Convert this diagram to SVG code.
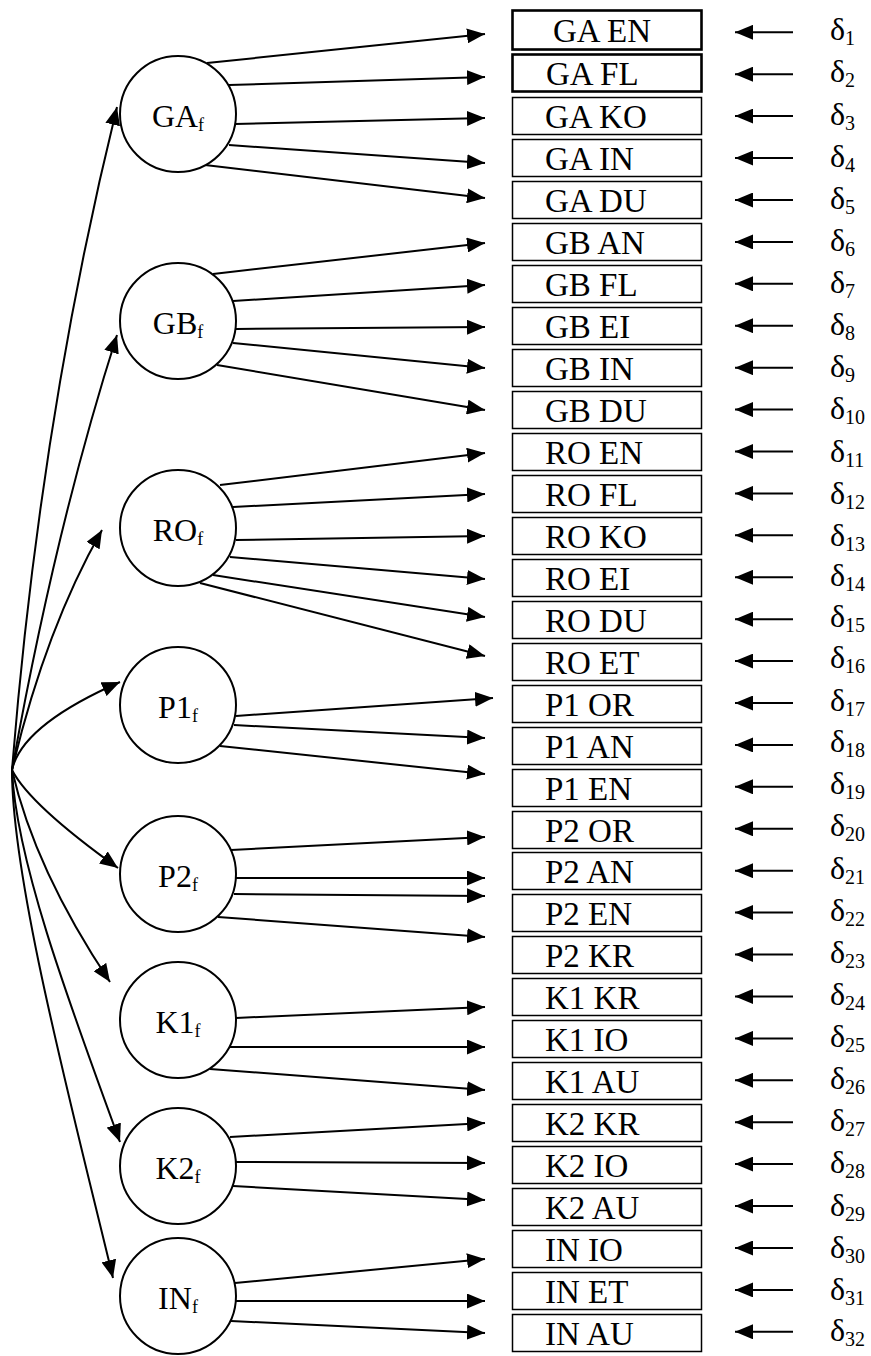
<svg xmlns="http://www.w3.org/2000/svg" width="871" height="1356" viewBox="0 0 871 1356">
<style>
.bg{fill:#fff}
.c{fill:#fff;stroke:#000;stroke-width:2}
.b{fill:#fff;stroke:#000;stroke-width:1.5}
.bt{fill:#fff;stroke:#000;stroke-width:2.6}
.t{font-family:"Liberation Serif","Times New Roman",serif;font-size:33px;fill:#000}
.ct{font-family:"Liberation Serif","Times New Roman",serif;font-size:32px;fill:#000;text-anchor:middle}
.sub{font-size:18px}
.d{font-family:"Liberation Serif","Times New Roman",serif;font-size:32px;fill:#000}
.ds{font-size:20px}
.l{fill:none;stroke:#000;stroke-width:2;marker-end:url(#ah)}
</style>
<defs>
<marker id="ah" markerUnits="userSpaceOnUse" markerWidth="19" markerHeight="15" refX="18" refY="7.5" orient="auto"><path d="M0,0 L18,7.5 L0,15 z" fill="#000"/></marker>
</defs>
<rect class="bg" x="0" y="0" width="871" height="1356"/>
<g id="connectors">
<path class="l" d="M12,770 Q40,420 117,107"/>
<path class="l" d="M12,770 Q55.5,527.5 117,335"/>
<path class="l" d="M12,770 Q45,630 102,530"/>
<path class="l" d="M12,770 Q22,725 120,682"/>
<path class="l" d="M12,770 Q30,805 118,868"/>
<path class="l" d="M12,770 Q35,870 110,982"/>
<path class="l" d="M12,770 C16,860 68,1000 120,1142"/>
<path class="l" d="M12,770 C12,880 70,1100 113,1278"/>
<path class="l" d="M207,63 L485,34"/>
<path class="l" d="M229,85 L485,77"/>
<path class="l" d="M235,124 L485,118"/>
<path class="l" d="M229,145 L485,163"/>
<path class="l" d="M205,165 L485,198"/>
<path class="l" d="M213,274 L485,243"/>
<path class="l" d="M233,301 L485,285"/>
<path class="l" d="M236,329 L485,327"/>
<path class="l" d="M233,343 L485,368"/>
<path class="l" d="M217,365 L485,410"/>
<path class="l" d="M220,485 L485,453"/>
<path class="l" d="M233,507 L485,494"/>
<path class="l" d="M236,540 L485,536"/>
<path class="l" d="M230,557 L485,579"/>
<path class="l" d="M213,575 L485,617"/>
<path class="l" d="M200,583 L485,656"/>
<path class="l" d="M236,716 L493,698"/>
<path class="l" d="M234,725 L485,738"/>
<path class="l" d="M220,746 L485,774"/>
<path class="l" d="M231,850 L485,837"/>
<path class="l" d="M236,878 L485,878"/>
<path class="l" d="M234,894 L485,896"/>
<path class="l" d="M218,917 L485,937"/>
<path class="l" d="M236,1018 L485,1007"/>
<path class="l" d="M230,1047 L485,1047"/>
<path class="l" d="M210,1069 L485,1090"/>
<path class="l" d="M230,1137 L485,1123"/>
<path class="l" d="M236,1162 L485,1163"/>
<path class="l" d="M233,1186 L485,1200"/>
<path class="l" d="M235,1283 L485,1259"/>
<path class="l" d="M236,1301 L485,1301"/>
<path class="l" d="M231,1321 L485,1333"/>
<path class="l" d="M793,32.3 H735"/>
<path class="l" d="M793,74.2 H735"/>
<path class="l" d="M793,116.1 H735"/>
<path class="l" d="M793,158.1 H735"/>
<path class="l" d="M793,200 H735"/>
<path class="l" d="M793,241.9 H735"/>
<path class="l" d="M793,283.8 H735"/>
<path class="l" d="M793,325.7 H735"/>
<path class="l" d="M793,367.7 H735"/>
<path class="l" d="M793,409.6 H735"/>
<path class="l" d="M793,451.5 H735"/>
<path class="l" d="M793,493.4 H735"/>
<path class="l" d="M793,535.3 H735"/>
<path class="l" d="M793,577.3 H735"/>
<path class="l" d="M793,619.2 H735"/>
<path class="l" d="M793,661.1 H735"/>
<path class="l" d="M793,703 H735"/>
<path class="l" d="M793,744.9 H735"/>
<path class="l" d="M793,786.8 H735"/>
<path class="l" d="M793,828.8 H735"/>
<path class="l" d="M793,870.7 H735"/>
<path class="l" d="M793,912.6 H735"/>
<path class="l" d="M793,954.5 H735"/>
<path class="l" d="M793,996.4 H735"/>
<path class="l" d="M793,1038.4 H735"/>
<path class="l" d="M793,1080.3 H735"/>
<path class="l" d="M793,1122.2 H735"/>
<path class="l" d="M793,1164.1 H735"/>
<path class="l" d="M793,1206 H735"/>
<path class="l" d="M793,1248 H735"/>
<path class="l" d="M793,1289.9 H735"/>
<path class="l" d="M793,1331.8 H735"/>
</g>
<g id="latent-GA"><circle class="c" cx="178" cy="114" r="58"/><text class="ct" x="178" y="126.7">GA<tspan class="sub" dy="4">f</tspan></text></g>
<g id="latent-GB"><circle class="c" cx="178" cy="321" r="58"/><text class="ct" x="178" y="333.7">GB<tspan class="sub" dy="4">f</tspan></text></g>
<g id="latent-RO"><circle class="c" cx="178" cy="528" r="58"/><text class="ct" x="178" y="540.7">RO<tspan class="sub" dy="4">f</tspan></text></g>
<g id="latent-P1"><circle class="c" cx="178" cy="705" r="58"/><text class="ct" x="178" y="717.7">P1<tspan class="sub" dy="4">f</tspan></text></g>
<g id="latent-P2"><circle class="c" cx="178" cy="874" r="58"/><text class="ct" x="178" y="886.7">P2<tspan class="sub" dy="4">f</tspan></text></g>
<g id="latent-K1"><circle class="c" cx="178" cy="1020" r="58"/><text class="ct" x="178" y="1032.7">K1<tspan class="sub" dy="4">f</tspan></text></g>
<g id="latent-K2"><circle class="c" cx="178" cy="1166" r="58"/><text class="ct" x="178" y="1178.7">K2<tspan class="sub" dy="4">f</tspan></text></g>
<g id="latent-IN"><circle class="c" cx="178" cy="1296" r="58"/><text class="ct" x="178" y="1308.7">IN<tspan class="sub" dy="4">f</tspan></text></g>
<g id="box-1"><rect class="bt" x="512.5" y="10.5" width="189" height="39"/><text class="t" x="553" y="42.3">GA EN</text></g>
<g id="box-2"><rect class="bt" x="512.5" y="54.5" width="189" height="37"/><text class="t" x="546" y="84.7">GA FL</text></g>
<g id="box-3"><rect class="b" x="512.5" y="97.5" width="189" height="37"/><text class="t" x="545" y="128">GA KO</text></g>
<g id="box-4"><rect class="b" x="512.5" y="139.5" width="189" height="37"/><text class="t" x="545" y="170">GA IN</text></g>
<g id="box-5"><rect class="b" x="512.5" y="181.5" width="189" height="37"/><text class="t" x="545" y="212">GA DU</text></g>
<g id="box-6"><rect class="b" x="512.5" y="223.5" width="189" height="37"/><text class="t" x="545" y="254">GB AN</text></g>
<g id="box-7"><rect class="b" x="512.5" y="265.5" width="189" height="37"/><text class="t" x="545" y="296">GB FL</text></g>
<g id="box-8"><rect class="b" x="512.5" y="307.5" width="189" height="37"/><text class="t" x="545" y="338">GB EI</text></g>
<g id="box-9"><rect class="b" x="512.5" y="349.5" width="189" height="37"/><text class="t" x="545" y="380">GB IN</text></g>
<g id="box-10"><rect class="b" x="512.5" y="391.5" width="189" height="37"/><text class="t" x="545" y="422">GB DU</text></g>
<g id="box-11"><rect class="b" x="512.5" y="433.5" width="189" height="37"/><text class="t" x="545" y="464">RO EN</text></g>
<g id="box-12"><rect class="b" x="512.5" y="475.5" width="189" height="37"/><text class="t" x="545" y="506">RO FL</text></g>
<g id="box-13"><rect class="b" x="512.5" y="517.5" width="189" height="37"/><text class="t" x="545" y="548">RO KO</text></g>
<g id="box-14"><rect class="b" x="512.5" y="559.5" width="189" height="37"/><text class="t" x="545" y="590">RO EI</text></g>
<g id="box-15"><rect class="b" x="512.5" y="601.5" width="189" height="37"/><text class="t" x="545" y="632">RO DU</text></g>
<g id="box-16"><rect class="b" x="512.5" y="643.5" width="189" height="37"/><text class="t" x="545" y="674">RO ET</text></g>
<g id="box-17"><rect class="b" x="512.5" y="685.5" width="189" height="37"/><text class="t" x="545" y="716">P1 OR</text></g>
<g id="box-18"><rect class="b" x="512.5" y="727.5" width="189" height="37"/><text class="t" x="545" y="758">P1 AN</text></g>
<g id="box-19"><rect class="b" x="512.5" y="769.5" width="189" height="37"/><text class="t" x="545" y="800">P1 EN</text></g>
<g id="box-20"><rect class="b" x="512.5" y="811.5" width="189" height="37"/><text class="t" x="545" y="842">P2 OR</text></g>
<g id="box-21"><rect class="b" x="512.5" y="852.5" width="189" height="37"/><text class="t" x="545" y="883">P2 AN</text></g>
<g id="box-22"><rect class="b" x="512.5" y="894.5" width="189" height="37"/><text class="t" x="545" y="925">P2 EN</text></g>
<g id="box-23"><rect class="b" x="512.5" y="936.5" width="189" height="37"/><text class="t" x="545" y="967">P2 KR</text></g>
<g id="box-24"><rect class="b" x="512.5" y="978.5" width="189" height="37"/><text class="t" x="545" y="1009">K1 KR</text></g>
<g id="box-25"><rect class="b" x="512.5" y="1020.5" width="189" height="37"/><text class="t" x="545" y="1051">K1 IO</text></g>
<g id="box-26"><rect class="b" x="512.5" y="1062.5" width="189" height="37"/><text class="t" x="545" y="1093">K1 AU</text></g>
<g id="box-27"><rect class="b" x="512.5" y="1104.5" width="189" height="37"/><text class="t" x="545" y="1135">K2 KR</text></g>
<g id="box-28"><rect class="b" x="512.5" y="1146.5" width="189" height="37"/><text class="t" x="545" y="1177">K2 IO</text></g>
<g id="box-29"><rect class="b" x="512.5" y="1188.5" width="189" height="37"/><text class="t" x="545" y="1219">K2 AU</text></g>
<g id="box-30"><rect class="b" x="512.5" y="1230.5" width="189" height="37"/><text class="t" x="545" y="1261">IN IO</text></g>
<g id="box-31"><rect class="b" x="512.5" y="1272.5" width="189" height="37"/><text class="t" x="545" y="1303">IN ET</text></g>
<g id="box-32"><rect class="b" x="512.5" y="1314.5" width="189" height="37"/><text class="t" x="545" y="1345">IN AU</text></g>
<g id="errors">
<text class="d" x="830" y="40.3">δ<tspan class="ds" dy="5">1</tspan></text>
<text class="d" x="830" y="82.4">δ<tspan class="ds" dy="5">2</tspan></text>
<text class="d" x="830" y="124.5">δ<tspan class="ds" dy="5">3</tspan></text>
<text class="d" x="830" y="166.7">δ<tspan class="ds" dy="5">4</tspan></text>
<text class="d" x="830" y="208.8">δ<tspan class="ds" dy="5">5</tspan></text>
<text class="d" x="830" y="250.9">δ<tspan class="ds" dy="5">6</tspan></text>
<text class="d" x="830" y="293">δ<tspan class="ds" dy="5">7</tspan></text>
<text class="d" x="830" y="335.1">δ<tspan class="ds" dy="5">8</tspan></text>
<text class="d" x="830" y="377.3">δ<tspan class="ds" dy="5">9</tspan></text>
<text class="d" x="830" y="419.4">δ<tspan class="ds" dy="5">10</tspan></text>
<text class="d" x="830" y="461.5">δ<tspan class="ds" dy="5">11</tspan></text>
<text class="d" x="830" y="503.6">δ<tspan class="ds" dy="5">12</tspan></text>
<text class="d" x="830" y="545.7">δ<tspan class="ds" dy="5">13</tspan></text>
<text class="d" x="830" y="585.9">δ<tspan class="ds" dy="5">14</tspan></text>
<text class="d" x="830" y="627">δ<tspan class="ds" dy="5">15</tspan></text>
<text class="d" x="830" y="668">δ<tspan class="ds" dy="5">16</tspan></text>
<text class="d" x="830" y="711">δ<tspan class="ds" dy="5">17</tspan></text>
<text class="d" x="830" y="752">δ<tspan class="ds" dy="5">18</tspan></text>
<text class="d" x="830" y="794">δ<tspan class="ds" dy="5">19</tspan></text>
<text class="d" x="830" y="836">δ<tspan class="ds" dy="5">20</tspan></text>
<text class="d" x="830" y="879">δ<tspan class="ds" dy="5">21</tspan></text>
<text class="d" x="830" y="921">δ<tspan class="ds" dy="5">22</tspan></text>
<text class="d" x="830" y="963">δ<tspan class="ds" dy="5">23</tspan></text>
<text class="d" x="830" y="1005">δ<tspan class="ds" dy="5">24</tspan></text>
<text class="d" x="830" y="1047">δ<tspan class="ds" dy="5">25</tspan></text>
<text class="d" x="830" y="1089">δ<tspan class="ds" dy="5">26</tspan></text>
<text class="d" x="830" y="1131">δ<tspan class="ds" dy="5">27</tspan></text>
<text class="d" x="830" y="1173">δ<tspan class="ds" dy="5">28</tspan></text>
<text class="d" x="830" y="1216">δ<tspan class="ds" dy="5">29</tspan></text>
<text class="d" x="830" y="1258">δ<tspan class="ds" dy="5">30</tspan></text>
<text class="d" x="830" y="1300">δ<tspan class="ds" dy="5">31</tspan></text>
<text class="d" x="830" y="1341">δ<tspan class="ds" dy="5">32</tspan></text>
</g>
</svg>
